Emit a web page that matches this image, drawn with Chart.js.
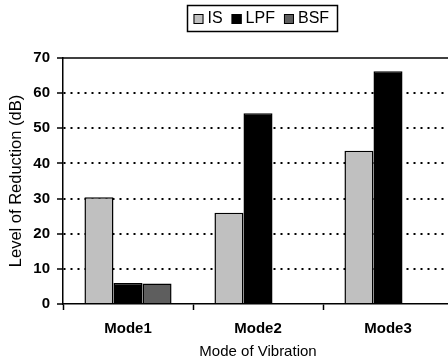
<!DOCTYPE html>
<html>
<head>
<meta charset="utf-8">
<script src="https://cdn.jsdelivr.net/npm/chart.js@4"></script>
<style>
  html, body { margin: 0; padding: 0; overflow: hidden; background: #fff; }
  #wrap { width: 460px; height: 361px; }
</style>
</head>
<body>
<div id="wrap"><canvas id="c" width="460" height="361"></canvas></div>
<script>
// Reduction levels per vibration mode (dB)
const modes = ['Mode1', 'Mode2', 'Mode3'];
const isValues = [30.4, 26.0, 43.6];
const lpfValues = [6.0, 54.3, 66.2];
const bsfValues = [5.8, 0, 0];
const yTicks = [0, 10, 20, 30, 40, 50, 60, 70];

const FONT = "'Liberation Sans', Arial, Helvetica, sans-serif";

// Framed horizontal legend drawn above the plot
const framedLegend = {
  id: 'framedLegend',
  afterDraw(chart) {
    const ctx = chart.ctx;
    const sets = chart.data.datasets;
    const sq = 10, gap = 4, space = 9, padL = 6, padR = 8;
    ctx.save();
    ctx.font = '16px ' + FONT;
    const widths = sets.map(d => ctx.measureText(d.label).width);
    const total = padL + padR + widths.reduce((a, w) => a + sq + gap + w, 0) + space * (sets.length - 1);
    const cx = 261.5;
    const top = 5, h = 26;
    let x = Math.round(cx - total / 2) + 0.5;
    ctx.strokeStyle = '#000';
    ctx.lineWidth = 1.5;
    ctx.strokeRect(x, top + 0.5, Math.round(total), h);
    x += padL;
    const midY = top + h / 2 + 1;
    ctx.textBaseline = 'middle';
    ctx.textAlign = 'left';
    sets.forEach((d, i) => {
      ctx.fillStyle = d.backgroundColor;
      ctx.fillRect(x, midY - sq / 2, sq, sq);
      ctx.lineWidth = 1;
      ctx.strokeStyle = '#000';
      ctx.strokeRect(x + 0.5, midY - sq / 2 + 0.5, sq - 1, sq - 1);
      x += sq + gap;
      ctx.fillStyle = '#000';
      ctx.fillText(d.label, x, midY);
      x += widths[i] + space;
    });
    ctx.restore();
  }
};

// Solid frame line along the top of the plot area
const topFrame = {
  id: 'topFrame',
  afterDatasetsDraw(chart) {
    const { ctx, chartArea } = chart;
    ctx.save();
    ctx.strokeStyle = '#000';
    ctx.lineWidth = 1.5;
    ctx.beginPath();
    ctx.moveTo(chartArea.left, chartArea.top);
    ctx.lineTo(chartArea.right, chartArea.top);
    ctx.stroke();
    ctx.restore();
  }
};

new Chart(document.getElementById('c'), {
  type: 'bar',
  data: {
    labels: modes,
    datasets: [
      { label: 'IS', data: isValues, backgroundColor: '#c0c0c0', borderColor: '#000', borderWidth: 1.5 },
      { label: 'LPF', data: lpfValues, backgroundColor: '#000000', borderColor: '#000', borderWidth: 1.5 },
      { label: 'BSF', data: bsfValues, backgroundColor: '#5e5e5e', borderColor: '#000', borderWidth: 1.5 }
    ]
  },
  options: {
    responsive: false,
    animation: false,
    events: [],
    layout: { padding: { top: 58, left: 0, right: 7, bottom: 0 } },
    datasets: { bar: { categoryPercentage: 0.67, barPercentage: 1.0 } },
    plugins: {
      legend: { display: false },
      tooltip: { enabled: false }
    },
    scales: {
      x: {
        grid: {
          offset: true,
          drawOnChartArea: false,
          color: '#000',
          tickColor: '#000',
          tickLength: 6,
          tickWidth: 1.5
        },
        border: { display: true, color: '#000', width: 1.5 },
        ticks: {
          color: '#000',
          font: { family: FONT, size: 15, weight: 'bold' },
          padding: 10
        },
        title: {
          display: true,
          text: 'Mode of Vibration',
          color: '#000',
          font: { family: FONT, size: 15 },
          padding: { top: 2, bottom: 0 }
        },
        afterFit(s) { s.height = 57; }
      },
      y: {
        min: 0,
        max: 70,
        afterBuildTicks(s) { s.ticks = yTicks.map(v => ({ value: v })); },
        grid: {
          color: c => (c.tick && (c.tick.value === 0 || c.tick.value === 70)) ? 'rgba(0,0,0,0)' : '#000',
          lineWidth: 2,
          tickColor: '#000',
          tickLength: 6,
          tickWidth: 1.5
        },
        border: { display: true, color: '#000', width: 1.5, dash: [2, 5] },
        ticks: {
          color: '#000',
          font: { family: FONT, size: 15, weight: 'bold' },
          padding: 7
        },
        title: {
          display: true,
          text: 'Level of Reduction (dB)',
          color: '#000',
          font: { family: FONT, size: 16.5 },
          padding: { top: 7, bottom: 0 }
        },
        afterFit(s) { s.width = 63; }
      }
    }
  },
  plugins: [framedLegend, topFrame]
});
</script>
</body>
</html>
